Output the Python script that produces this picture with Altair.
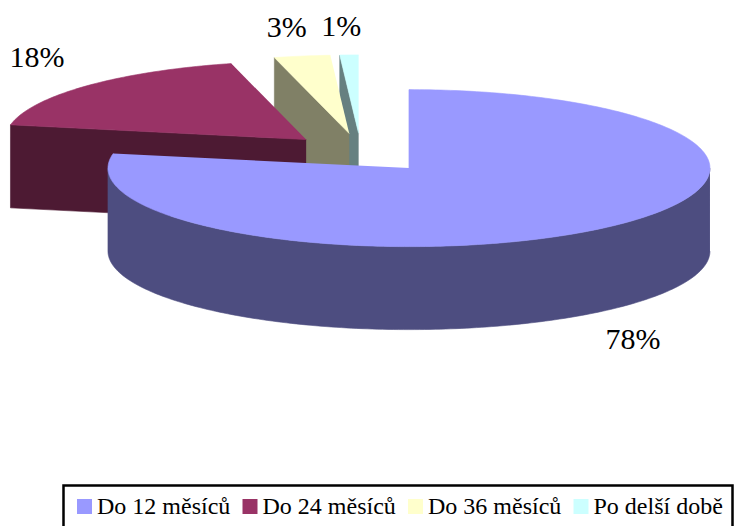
import numpy as np
import pandas as pd
import altair as alt

# Shares of the four duration groups (percent)
categories = ["Do 12 měsíců", "Do 24 měsíců", "Do 36 měsíců", "Po delší době"]
shares = [78, 18, 3, 1]

# Face colours: lit top and the darker side / cut faces
top_colors = ["#9999FF", "#993366", "#FFFFCC", "#CCFFFF"]
side_colors = ["#4D4D80", "#4D1A33", "#808066", "#668080"]

SERIF = "Liberation Serif"

# Canvas and pie geometry (pixels)
W, H = 743, 526
CX, CY = 361, 153          # pie centre before the slices are pulled apart
RX, RY = 301, 78.5         # ellipse radii of the tilted disc
DEPTH = 83                 # thickness of the disc
EXPLODE = 0.25             # how far each slice is pulled out (fraction of radius)


def rim(apex, ang, drop=0.0):
    t = np.deg2rad(ang)
    return apex[0] + RX * np.sin(t), apex[1] - RY * np.cos(t) + drop


def sweep(a, b, step=1.0):
    n = max(2, int(np.ceil(abs(b - a) / step)) + 1)
    return np.linspace(a, b, n)


total = float(sum(shares))
edges = np.concatenate([[0.0], np.cumsum(shares) / total * 360.0])

slices = []
for k, cat in enumerate(categories):
    s, e = edges[k], edges[k + 1]
    mid = (s + e) / 2
    m = np.deg2rad(mid)
    apex = (CX + EXPLODE * RX * np.sin(m), CY - EXPLODE * RY * np.cos(m))
    slices.append(dict(cat=cat, share=shares[k], s=s, e=e, mid=mid,
                       apex=apex, front=-np.cos(m)))

# paint back slices first
order = sorted(range(len(slices)), key=lambda k: slices[k]["front"])

faces = []  # (shade key, list of (x, y))
for k in order:
    sl = slices[k]
    ap, s, e = sl["apex"], sl["s"], sl["e"]
    side_key = sl["cat"] + " · bok"
    # cut face at the start angle, visible when it turns towards the viewer
    if np.cos(np.deg2rad(s - 90)) < -1e-9:
        ox, oy = rim(ap, s)
        faces.append((side_key, [ap, (ox, oy), (ox, oy + DEPTH), (ap[0], ap[1] + DEPTH)]))
    # cut face at the end angle
    if np.cos(np.deg2rad(e + 90)) < -1e-9:
        ox, oy = rim(ap, e)
        faces.append((side_key, [ap, (ox, oy), (ox, oy + DEPTH), (ap[0], ap[1] + DEPTH)]))
    # outer wall on the front half of the disc
    lo, hi = max(s, 90.0), min(e, 270.0)
    if hi > lo:
        upper = [rim(ap, a) for a in sweep(lo, hi)]
        lower = [rim(ap, a, DEPTH) for a in sweep(hi, lo)]
        faces.append((side_key, upper + lower))

for k in order:
    sl = slices[k]
    ap = sl["apex"]
    faces.append((sl["cat"], [ap] + [rim(ap, a) for a in sweep(sl["s"], sl["e"])]))

rows = []
for z, (key, pts) in enumerate(faces):
    for i, (x, y) in enumerate(pts):
        rows.append(dict(z=z, shade=key, i=i, x=float(x), y=float(y)))
poly = pd.DataFrame(rows)

# percentage labels just outside each slice
lab_rows = []
for sl in slices:
    m = np.deg2rad(sl["mid"])
    front = np.cos(m) < 0
    ox, oy = rim(sl["apex"], sl["mid"], DEPTH if front else 0.0)
    lab_rows.append(dict(
        x=float(ox + 60 * np.sin(m) - 6),
        y=float(oy + (28 if front else -28)),
        text=f"{sl['share']}%",
    ))
labels = pd.DataFrame(lab_rows)

shade_domain = categories + [c + " · bok" for c in categories]
shade_range = top_colors + side_colors

xs = alt.Scale(domain=[0, W], range=[0, W])
ys = alt.Scale(domain=[0, H], range=[0, H])

base = alt.Chart(poly).mark_line(strokeWidth=0.6, interpolate="linear").encode(
    x=alt.X("x:Q", scale=xs, axis=None),
    y=alt.Y("y:Q", scale=ys, axis=None),
    order=alt.Order("i:Q"),
    detail="z:N",
    fill=alt.Fill(
        "shade:N",
        scale=alt.Scale(domain=shade_domain, range=shade_range),
        legend=alt.Legend(
            orient="none", legendX=63.5, legendY=485.5,
            direction="horizontal", columns=4, title=None,
            values=categories,
            symbolType="square", symbolSize=225, symbolStrokeWidth=0,
            symbolOpacity=1,
            labelFont=SERIF, labelFontSize=24, labelColor="black",
            labelOffset=0.5, labelLimit=400, columnPadding=7.5, padding=9,
            gridAlign="all",
            strokeColor="black", fillColor="white",
        ),
    ),
    stroke=alt.Stroke(
        "shade:N",
        scale=alt.Scale(domain=shade_domain, range=shade_range),
        legend=None,
    ),
)

layers = [base.transform_filter(alt.datum.z == z) for z in range(len(faces))]

text = alt.Chart(labels).mark_text(
    font=SERIF, fontSize=30, color="black",
    align="center", baseline="middle",
).encode(
    x=alt.X("x:Q", scale=xs, axis=None),
    y=alt.Y("y:Q", scale=ys, axis=None),
    text="text:N",
)

chart = alt.layer(*layers, text).properties(
    width=W, height=H, padding=0, autosize=alt.AutoSizeParams(type="none"),
    background="white",
).configure_view(stroke=None).configure_legend(strokeWidth=2.5)

chart.save("out.html", embed_options={"renderer": "svg", "actions": False})
